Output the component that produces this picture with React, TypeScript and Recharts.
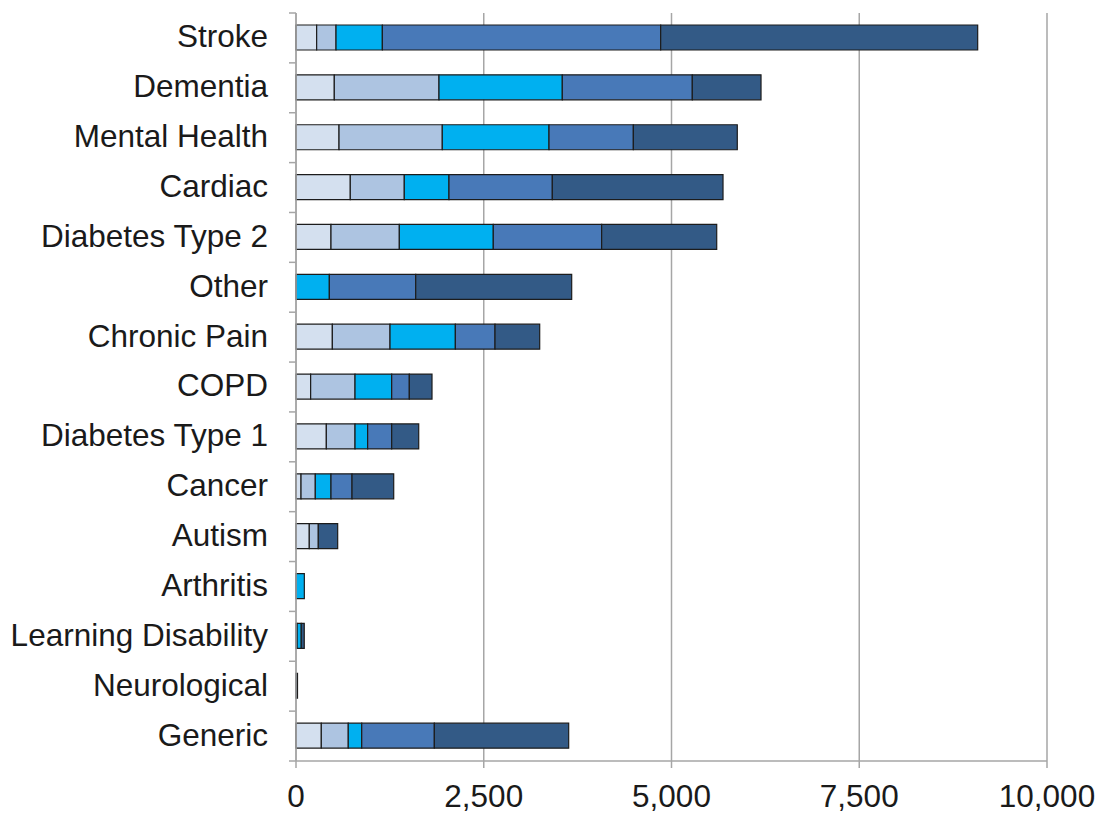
import {
  Bar,
  BarChart,
  CartesianGrid,
  XAxis,
  YAxis,
} from "recharts";

// Categories, top to bottom
const categories = [
  "Stroke",
  "Dementia",
  "Mental Health",
  "Cardiac",
  "Diabetes Type 2",
  "Other",
  "Chronic Pain",
  "COPD",
  "Diabetes Type 1",
  "Cancer",
  "Autism",
  "Arthritis",
  "Learning Disability",
  "Neurological",
  "Generic",
];

// Stacked segments, left to right
const band1 = [275, 510, 573, 723, 466, 0, 484, 195, 404, 67, 177, 0, 15, 0, 337];
const band2 = [258, 1394, 1375, 719, 910, 0, 768, 591, 382, 190, 120, 0, 0, 0, 359];
const band3 = [617, 1642, 1421, 595, 1251, 444, 870, 488, 168, 209, 0, 111, 55, 0, 179];
const band4 = [3706, 1731, 1123, 1376, 1443, 1150, 528, 235, 320, 280, 0, 0, 0, 0, 967];
const band5 = [4221, 915, 1384, 2273, 1532, 2077, 595, 302, 360, 555, 258, 0, 40, 20, 1789];

const xTicks = [0, 2500, 5000, 7500, 10000];

const colors = {
  band1: "#D4E0EF",
  band2: "#ADC4E1",
  band3: "#00B0F0",
  band4: "#4879B8",
  band5: "#335A86",
  edge: "#1c1c1c",
  grid: "#A6A6A6",
  text: "#1a1a1a",
};

const font = '"Liberation Sans", Arial, sans-serif';

const W = 1105;
const H = 819;
const margin = { top: 13, right: 58, bottom: 0, left: 0 };
const xAxisHeight = 58;
const yAxisWidth = 296;
// height of one category band, used to put tick marks between categories
const band = (H - margin.top - margin.bottom - xAxisHeight) / categories.length;

function CategoryTick({ x, y, payload, index }: any) {
  const last = index === categories.length - 1;
  return (
    <g>
      <line
        x1={x + 21}
        x2={x + 28}
        y1={y - band / 2}
        y2={y - band / 2}
        stroke={colors.grid}
        strokeWidth={1.5}
      />
      {last && (
        <line
          x1={x + 21}
          x2={x + 28}
          y1={y + band / 2}
          y2={y + band / 2}
          stroke={colors.grid}
          strokeWidth={1.5}
        />
      )}
      <text
        x={x}
        y={y}
        dy="0.3em"
        textAnchor="end"
        fill={colors.text}
        fontSize={31.5}
        fontFamily={font}
      >
        {payload.value}
      </text>
    </g>
  );
}

export default function App() {
  const data = categories.map((name, i) => ({
    name,
    band1: band1[i],
    band2: band2[i],
    band3: band3[i],
    band4: band4[i],
    band5: band5[i],
  }));

  const series = [
    { key: "band1", color: colors.band1 },
    { key: "band2", color: colors.band2 },
    { key: "band3", color: colors.band3 },
    { key: "band4", color: colors.band4 },
    { key: "band5", color: colors.band5 },
  ];

  return (
    <div
      style={{
        position: "absolute",
        top: 0,
        left: 0,
        width: W,
        height: H,
        fontFamily: font,
        background: "#fff",
      }}
    >
      <BarChart
        width={W}
        height={H}
        data={data}
        layout="vertical"
        barSize={25}
        margin={margin}
      >
        <CartesianGrid
          horizontal={false}
          stroke={colors.grid}
          strokeWidth={1.5}
        />
        <XAxis
          type="number"
          domain={[0, 10000]}
          ticks={xTicks}
          interval={0}
          height={xAxisHeight}
          tickSize={7}
          tickMargin={17}
          tickFormatter={(v: number) => v.toLocaleString("en-US")}
          tick={{ fill: colors.text, fontSize: 31.5, fontFamily: font }}
          axisLine={{ stroke: colors.grid, strokeWidth: 1.5 }}
          tickLine={{ stroke: colors.grid, strokeWidth: 1.5 }}
        />
        <YAxis
          type="category"
          dataKey="name"
          width={yAxisWidth}
          interval={0}
          tickSize={7}
          tickMargin={21}
          tickLine={false}
          tick={<CategoryTick />}
          axisLine={{ stroke: colors.grid, strokeWidth: 1.5 }}
        />
        {series.map((s) => (
          <Bar
            key={s.key}
            dataKey={s.key}
            stackId="a"
            fill={s.color}
            stroke={colors.edge}
            strokeWidth={1.2}
            isAnimationActive={false}
          />
        ))}
      </BarChart>
    </div>
  );
}
